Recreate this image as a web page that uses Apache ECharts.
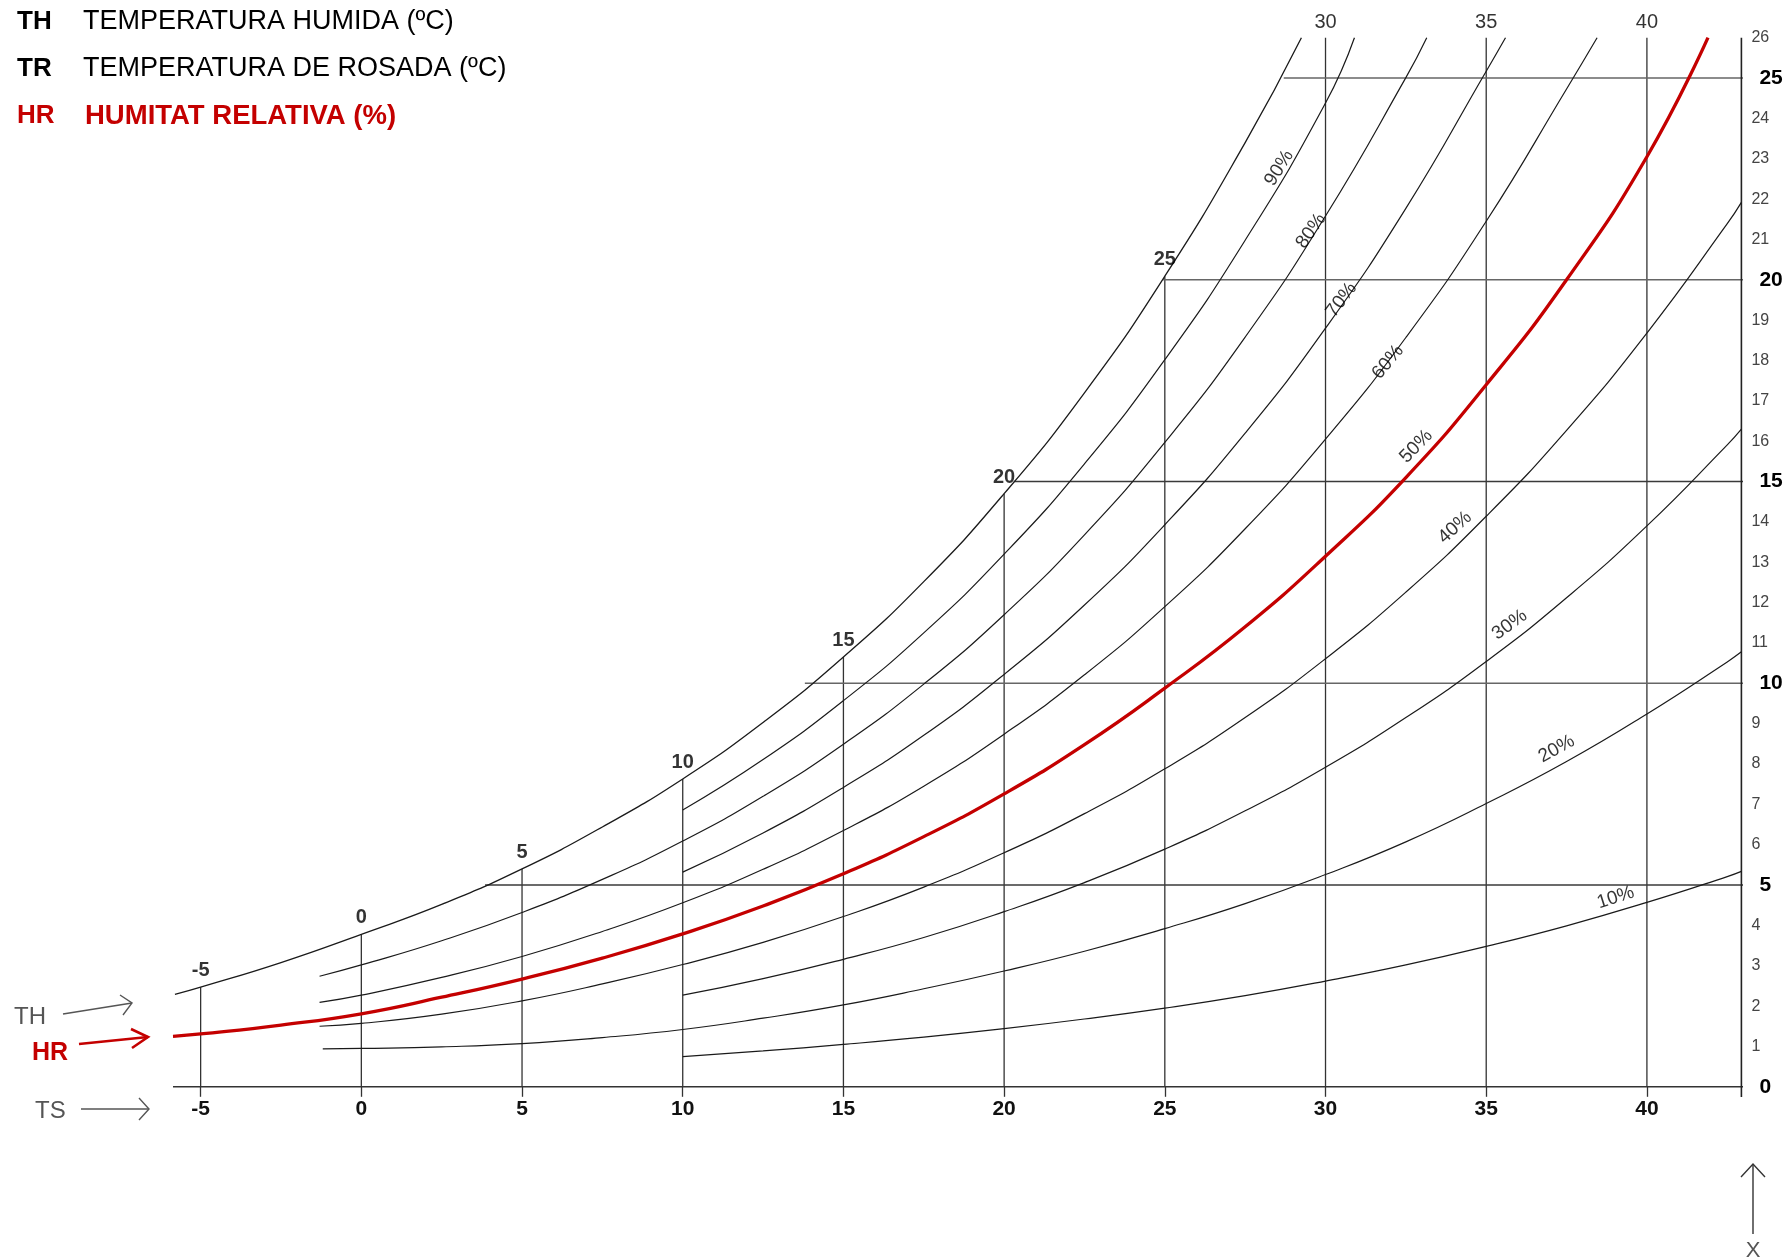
<!DOCTYPE html>
<html><head><meta charset="utf-8">
<script src="https://cdn.jsdelivr.net/npm/echarts@6/dist/echarts.min.js"></script>
<style>html,body{margin:0;padding:0;background:#fff}#c{width:1788px;height:1257px}</style>
</head><body><div id="c"></div>
<script>
// ---------- data ----------
const dryBulbTicks = [-5, 0, 5, 10, 15, 20, 25, 30, 35, 40];
const dryBulbTops  = [2.47, 3.78, 5.40, 7.63, 10.65, 14.70, 20.09, 26, 26, 26];
const humidityTicks = [0,1,2,3,4,5,6,7,8,9,10,11,12,13,14,15,16,17,18,19,20,21,22,23,24,25,26];
const hLineValues = [5, 10, 15, 20, 25];
const hLineStarts = [3.85, 13.8, 20.3, 24.95, 28.7];

const saturation = [[-5.8,2.29],[-5,2.47],[-2.5,3.08],[0,3.78],[2.5,4.52],[5,5.40],[7.5,6.44],[10,7.63],[12.5,9.03],[15,10.65],[17.5,12.52],[20,14.70],[22.5,17.20],[25,20.09],[27.5,23.40],[29.25,26.0]];
const rh90 = [[10,6.86],[12.5,8.11],[15,9.57],[17.5,11.25],[20,13.20],[22.5,15.44],[25,18.02],[27.5,20.98],[30,24.38],[30.9,26.0]];
const rh80 = [[-1.3,2.74],[0,3.02],[2.5,3.62],[5,4.32],[7.5,5.14],[10,6.09],[12.5,7.20],[15,8.49],[17.5,9.98],[20,11.70],[22.5,13.68],[25,15.97],[27.5,18.58],[30,21.58],[32.5,25.01],[33.15,26.0]];
const rh70 = [[10,5.32],[12.5,6.29],[15,7.42],[17.5,8.71],[20,10.22],[22.5,11.94],[25,13.93],[27.5,16.20],[30,18.80],[32.5,21.77],[35,25.17],[35.6,26.0]];
const rh60 = [[-1.3,2.09],[0,2.27],[2.5,2.71],[5,3.23],[7.5,3.85],[10,4.56],[12.5,5.39],[15,6.35],[17.5,7.45],[20,8.74],[22.5,10.21],[25,11.90],[27.5,13.83],[30,16.05],[32.5,18.57],[35,21.45],[37.5,24.73],[38.45,26.0]];
const rh50 = [[-5.86,1.25],[-5,1.31],[-2.5,1.53],[0,1.81],[2.5,2.22],[5,2.67],[7.5,3.19],[10,3.79],[12.5,4.48],[15,5.28],[17.5,6.20],[20,7.26],[22.5,8.48],[25,9.88],[27.5,11.40],[30,13.15],[32.5,15.10],[35,17.40],[37.5,20.0],[40,23.05],[41.9,26.0]];
const rh40 = [[-1.3,1.50],[0,1.57],[2.5,1.80],[5,2.13],[7.5,2.55],[10,3.03],[12.5,3.58],[15,4.22],[17.5,4.95],[20,5.80],[22.5,6.77],[25,7.88],[27.5,9.15],[30,10.61],[32.5,12.26],[35,14.14],[37.5,16.27],[40,18.68],[42.5,21.39],[42.94,21.92]];
const rh30 = [[10,2.27],[12.5,2.68],[15,3.16],[17.5,3.70],[20,4.34],[22.5,5.06],[25,5.89],[27.5,6.84],[30,7.92],[32.5,9.15],[35,10.54],[37.5,12.12],[40,13.90],[42.5,15.91],[42.94,16.30]];
const rh20 = [[-1.2,0.94],[0,0.95],[2.5,0.99],[5,1.07],[7.5,1.22],[10,1.42],[12.5,1.70],[15,2.03],[17.5,2.43],[20,2.87],[22.5,3.36],[25,3.92],[27.5,4.54],[30,5.26],[32.5,6.07],[35,7.02],[37.5,8.06],[40,9.24],[42.5,10.53],[42.94,10.78]];
const rh10 = [[10,0.75],[12.5,0.89],[15,1.05],[17.5,1.23],[20,1.44],[22.5,1.68],[25,1.95],[27.5,2.26],[30,2.62],[32.5,3.02],[35,3.48],[37.5,3.99],[40,4.57],[42.5,5.21],[42.94,5.34]];

const rhNames = ['90%','80%','70%','60%','50%','40%','30%','20%','10%'];
const rhLabelPos = [[28.56,22.77],[29.55,21.21],[30.5,19.5],[31.94,17.96],[32.82,15.87],[34.03,13.86],[35.73,11.45],[37.19,8.37],[39.03,4.69]];

const legendKeys  = ['TH', 'TR', 'HR'];
const legendTexts = ['TEMPERATURA HUMIDA (ºC)', 'TEMPERATURA DE ROSADA (ºC)', 'HUMITAT RELATIVA (%)'];

// ---------- styles ----------
const FONT = "'Liberation Sans', Arial, Helvetica, sans-serif";
const RED = '#c40000';
const rhCurves = [rh90, rh80, rh70, rh60, rh50, rh40, rh30, rh20, rh10];
const rhLabelAngle = [58, 55, 53, 50, 46, 42, 36, 29, 18];
const hLineColors = ['#3a3a3a', '#666', '#3a3a3a', '#666', '#666'];
const legendRowY = [22, 69, 116];
const X_MIN = -5.86, X_MAX = 42.94, X_EXT = 43.25;

const series = [];
const base = {type: 'line', symbol: 'none', silent: true, animation: false, clip: false};

// dry-bulb vertical lines
dryBulbTicks.forEach((t, i) => {
  series.push(Object.assign({}, base, {
    data: [[t, 0], [t, dryBulbTops[i]]],
    lineStyle: {color: '#333', width: 1.3}, z: 2
  }));
});
// humidity horizontal lines
hLineValues.forEach((v, i) => {
  series.push(Object.assign({}, base, {
    data: [[hLineStarts[i], v], [X_EXT, v]],
    lineStyle: {color: hLineColors[i], width: 1.5}, z: 2
  }));
});
// x axis base line and right axis line
series.push(Object.assign({}, base, {data: [[X_MIN, 0], [X_EXT, 0]], lineStyle: {color: '#333', width: 1.5}, z: 2}));
series.push(Object.assign({}, base, {data: [[X_MAX, -0.25], [X_MAX, 26]], lineStyle: {color: '#222', width: 1.6}, z: 2}));
// saturation curve
series.push(Object.assign({}, base, {data: saturation, smooth: 0.5, lineStyle: {color: '#1a1a1a', width: 1.3}, z: 3}));
// RH curves
rhCurves.forEach((c, i) => {
  const isRed = rhNames[i] === '50%';
  series.push(Object.assign({}, base, {
    data: c, smooth: 0.5,
    lineStyle: isRed ? {color: RED, width: 3.3} : {color: '#1a1a1a', width: 1.2},
    z: isRed ? 5 : 3
  }));
});
// dry-bulb labels (on saturation curve and on top)
series.push({
  type: 'scatter', silent: true, animation: false, clip: false, symbolSize: 1,
  itemStyle: {color: 'rgba(0,0,0,0)'},
  data: dryBulbTicks.map((t, i) => {
    const top = dryBulbTops[i] >= 26;
    return {value: [t, dryBulbTops[i]], label: top ? {distance: 5, fontWeight: 'normal'} : {distance: 6, fontWeight: 'bold'}};
  }),
  label: {show: true, position: 'top', color: '#000', fontSize: 20, fontFamily: FONT,
          formatter: p => String(p.value[0])},
  z: 6
});
// RH labels
series.push({
  type: 'scatter', silent: true, animation: false, clip: false, symbolSize: 1,
  itemStyle: {color: 'rgba(0,0,0,0)'},
  data: rhLabelPos.map((p, i) => ({name: rhNames[i], value: p, label: {rotate: rhLabelAngle[i]}})),
  label: {show: true, position: 'inside', color: '#000', fontSize: 19, fontFamily: FONT, formatter: '{b}'},
  z: 6
});

const graphic = [];
legendKeys.forEach((k, i) => {
  const y = legendRowY[i];
  const red = k === 'HR';
  graphic.push({type: 'text', x: 17, y: y, style: {text: k, font: 'bold 26px ' + FONT, fill: red ? RED : '#000', verticalAlign: 'middle', align: 'left'}});
  graphic.push({type: 'text', x: red ? 85 : 83, y: y, style: {text: legendTexts[i], font: (red ? 'bold 27.5px ' : '27px ') + FONT, fill: red ? RED : '#000', verticalAlign: 'middle', align: 'left'}});
});
// left side indicators
const gray = '#555';
graphic.push({type: 'text', x: 14, y: 1017, style: {text: 'TH', font: '24px ' + FONT, fill: gray, verticalAlign: 'middle'}});
graphic.push({type: 'polyline', shape: {points: [[63, 1014], [132, 1003]]}, style: {stroke: gray, lineWidth: 1.4, fill: null}});
graphic.push({type: 'polyline', shape: {points: [[120, 995], [132, 1003], [123, 1015]]}, style: {stroke: gray, lineWidth: 1.4, fill: null}});
graphic.push({type: 'text', x: 32, y: 1053, style: {text: 'HR', font: 'bold 25px ' + FONT, fill: RED, verticalAlign: 'middle'}});
graphic.push({type: 'polyline', shape: {points: [[79, 1044], [148, 1037]]}, style: {stroke: RED, lineWidth: 2.6, fill: null}});
graphic.push({type: 'polyline', shape: {points: [[131, 1029], [148, 1037], [132, 1048]]}, style: {stroke: RED, lineWidth: 2.6, fill: null}});
graphic.push({type: 'text', x: 35, y: 1111, style: {text: 'TS', font: '24px ' + FONT, fill: gray, verticalAlign: 'middle'}});
graphic.push({type: 'polyline', shape: {points: [[81, 1109], [149, 1109]]}, style: {stroke: gray, lineWidth: 1.4, fill: null}});
graphic.push({type: 'polyline', shape: {points: [[139, 1098], [149, 1109], [139, 1120]]}, style: {stroke: gray, lineWidth: 1.4, fill: null}});
// bottom-right X indicator
graphic.push({type: 'polyline', shape: {points: [[1753, 1164], [1753, 1234]]}, style: {stroke: '#333', lineWidth: 1.4, fill: null}});
graphic.push({type: 'polyline', shape: {points: [[1741, 1177], [1753, 1164], [1765, 1177]]}, style: {stroke: '#333', lineWidth: 1.4, fill: null}});
graphic.push({type: 'text', x: 1753, y: 1251, style: {text: 'X', font: '22px ' + FONT, fill: gray, verticalAlign: 'middle', align: 'center'}});

const chart = echarts.init(document.getElementById('c'), null, {renderer: 'canvas'});
chart.setOption({
  backgroundColor: '#fff',
  animation: false,
  grid: {left: 173, right: 46.6, top: 37.7, bottom: 170.2, containLabel: false},
  xAxis: {
    type: 'value', min: X_MIN, max: X_MAX,
    splitLine: {show: false},
    axisLine: {show: false},
    axisTick: {show: true, customValues: dryBulbTicks, length: 10, lineStyle: {color: '#333', width: 1.3}},
    axisLabel: {customValues: dryBulbTicks, fontSize: 21, fontWeight: 'bold', color: '#111', fontFamily: FONT, margin: 12}
  },
  yAxis: {
    type: 'value', position: 'right', min: 0, max: 26, interval: 1,
    splitLine: {show: false}, axisLine: {show: false}, axisTick: {show: false},
    axisLabel: {
      margin: 10, fontFamily: FONT,
      formatter: v => (humidityTicks.indexOf(v) >= 0 ? (v % 5 === 0 ? '{b|' + v + '}' : '{s|' + v + '}') : ''),
      rich: {
        b: {fontSize: 21, fontWeight: 'bold', color: '#000', fontFamily: FONT, padding: [0, 0, 0, 8]},
        s: {fontSize: 16, color: '#444', fontFamily: FONT}
      }
    }
  },
  graphic: graphic,
  series: series
});
</script></body></html>
